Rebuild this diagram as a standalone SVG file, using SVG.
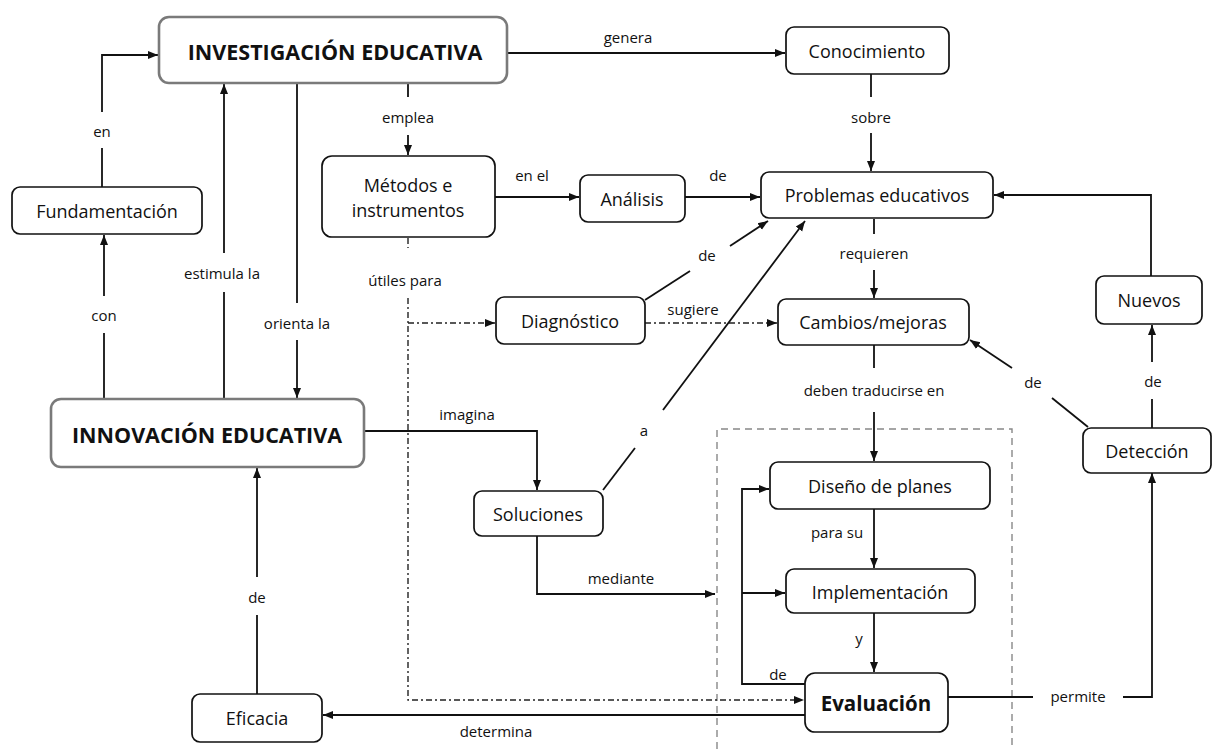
<svg xmlns="http://www.w3.org/2000/svg" width="1215" height="749" viewBox="0 0 1215 749">
<style>
.box{fill:#fff;stroke:#111;stroke-width:1.7}
.main{fill:#fff;stroke:#7a7a7a;stroke-width:2.6}
.t{font-family:"Open Sans","Liberation Sans",sans-serif;font-size:18px;fill:#111;text-anchor:middle;dominant-baseline:central}
.tb{font-family:"Open Sans","Liberation Sans",sans-serif;font-size:21.5px;font-weight:bold;fill:#111;text-anchor:middle;dominant-baseline:central}
.l{font-family:"Open Sans","Liberation Sans",sans-serif;font-size:15px;fill:#111;text-anchor:middle;dominant-baseline:central}
.c{fill:none;stroke:#111;stroke-width:1.8}
.dd{fill:none;stroke:#222;stroke-width:1.4;stroke-dasharray:6 3 2 3}
.ds{fill:none;stroke:#888;stroke-width:1.4;stroke-dasharray:7 5}
</style>
<defs>
<marker id="a" viewBox="0 0 10 10" refX="10" refY="5" markerUnits="userSpaceOnUse" markerWidth="10" markerHeight="10" orient="auto"><path d="M0,1 L10,5 L0,9 z" fill="#111"/></marker>
</defs>
<rect width="1215" height="749" fill="#fff"/>
<path class="ds" d="M717,749 V429 H1012 V749"/>
<g id="connectors">
<path class="c" d="M102,187 V148"/><path class="c" d="M102,112 V55 H158" marker-end="url(#a)"/>
<text class="l" x="102" y="131">en</text>
<path class="c" d="M104,399 V333"/><path class="c" d="M104,296 V235" marker-end="url(#a)"/>
<text class="l" x="104" y="315">con</text>
<path class="c" d="M224,399 V292"/><path class="c" d="M224,253 V84" marker-end="url(#a)"/>
<text class="l" x="222" y="273">estimula la</text>
<path class="c" d="M297,84 V303"/><path class="c" d="M297,340 V398" marker-end="url(#a)"/>
<text class="l" x="297" y="323">orienta la</text>
<path class="c" d="M507,53 H785" marker-end="url(#a)"/>
<text class="l" x="628" y="37">genera</text>
<path class="c" d="M408,84 V97"/><path class="c" d="M408,135 V155" marker-end="url(#a)"/>
<text class="l" x="408" y="117">emplea</text>
<path class="c" d="M871,74 V97"/><path class="c" d="M871,133 V171" marker-end="url(#a)"/>
<text class="l" x="871" y="117">sobre</text>
<path class="c" d="M495,197 H579" marker-end="url(#a)"/>
<text class="l" x="532" y="175">en el</text>
<path class="c" d="M685,197 H760" marker-end="url(#a)"/>
<text class="l" x="718" y="175">de</text>
<path class="dd" d="M408,238 V248"/><path class="dd" d="M408,298 V700 H804" marker-end="url(#a)"/>
<path class="dd" d="M408,323 H495" marker-end="url(#a)"/>
<text class="l" x="405" y="280">útiles para</text>
<path class="c" d="M645,300 L690,271"/><path class="c" d="M730,246 L768,221" marker-end="url(#a)"/>
<text class="l" x="707" y="255">de</text>
<path class="dd" d="M645,323 H777" marker-end="url(#a)"/>
<text class="l" x="693" y="309">sugiere</text>
<path class="c" d="M874,219 V234"/><path class="c" d="M874,270 V298" marker-end="url(#a)"/>
<text class="l" x="874" y="253">requieren</text>
<path class="c" d="M874,345 V368"/><path class="c" d="M874,412 V461" marker-end="url(#a)"/>
<text class="l" x="874" y="390">deben traducirse en</text>
<path class="c" d="M364,431 H537 V490" marker-end="url(#a)"/>
<text class="l" x="467" y="414">imagina</text>
<path class="c" d="M603,490 L635,448"/><path class="c" d="M663,410 L805,221" marker-end="url(#a)"/>
<text class="l" x="644" y="430">a</text>
<path class="c" d="M537,536 V594 H715" marker-end="url(#a)"/>
<text class="l" x="621" y="578">mediante</text>
<path class="c" d="M805,684 H742 V489 H769" marker-end="url(#a)"/>
<path class="c" d="M742,593 H785" marker-end="url(#a)"/>
<text class="l" x="778" y="674">de</text>
<path class="c" d="M874,509 V568" marker-end="url(#a)"/>
<text class="l" x="837" y="532">para su</text>
<path class="c" d="M874,613 V672" marker-end="url(#a)"/>
<text class="l" x="859" y="638">y</text>
<path class="c" d="M805,715 H323" marker-end="url(#a)"/>
<text class="l" x="496" y="731">determina</text>
<path class="c" d="M257,694 V615"/><path class="c" d="M257,577 V468" marker-end="url(#a)"/>
<text class="l" x="257" y="597">de</text>
<path class="c" d="M948,697 H1033"/><path class="c" d="M1123,697 H1152 V473" marker-end="url(#a)"/>
<text class="l" x="1078" y="696">permite</text>
<path class="c" d="M1152,428 V399"/><path class="c" d="M1152,362 V325" marker-end="url(#a)"/>
<text class="l" x="1153" y="381">de</text>
<path class="c" d="M1088,427 L1052,398"/><path class="c" d="M1012,368 L970,340" marker-end="url(#a)"/>
<text class="l" x="1033" y="382">de</text>
<path class="c" d="M1151,276 V195 H994" marker-end="url(#a)"/>
</g>
<g id="investigacion"><rect class="main" x="159" y="17" width="348" height="66" rx="10"/><text class="tb" x="335" y="51">INVESTIGACIÓN EDUCATIVA</text></g>
<g id="innovacion"><rect class="main" x="51" y="399" width="313" height="68" rx="10"/><text class="tb" x="207" y="434">INNOVACIÓN EDUCATIVA</text></g>
<g id="conocimiento"><rect class="box" x="786" y="27" width="163" height="47" rx="8"/><text class="t" x="867" y="51">Conocimiento</text></g>
<g id="fundamentacion"><rect class="box" x="12" y="187" width="190" height="47" rx="8"/><text class="t" x="107" y="211">Fundamentación</text></g>
<g id="metodos"><rect class="box" x="322" y="156" width="173" height="81" rx="10"/><text class="t" x="408" y="185">Métodos e</text><text class="t" x="408" y="210">instrumentos</text></g>
<g id="analisis"><rect class="box" x="580" y="175" width="105" height="47" rx="8"/><text class="t" x="632" y="199">Análisis</text></g>
<g id="problemas"><rect class="box" x="761" y="172" width="232" height="46" rx="8"/><text class="t" x="877" y="195">Problemas educativos</text></g>
<g id="diagnostico"><rect class="box" x="496" y="297" width="149" height="47" rx="8"/><text class="t" x="570" y="321">Diagnóstico</text></g>
<g id="cambios"><rect class="box" x="778" y="299" width="191" height="46" rx="8"/><text class="t" x="873" y="322">Cambios/mejoras</text></g>
<g id="nuevos"><rect class="box" x="1096" y="276" width="106" height="48" rx="8"/><text class="t" x="1149" y="300">Nuevos</text></g>
<g id="deteccion"><rect class="box" x="1083" y="428" width="128" height="45" rx="8"/><text class="t" x="1147" y="451">Detección</text></g>
<g id="soluciones"><rect class="box" x="474" y="491" width="129" height="45" rx="8"/><text class="t" x="538" y="514">Soluciones</text></g>
<g id="diseno"><rect class="box" x="770" y="462" width="220" height="47" rx="8"/><text class="t" x="880" y="486">Diseño de planes</text></g>
<g id="implementacion"><rect class="box" x="786" y="569" width="189" height="44" rx="8"/><text class="t" x="880" y="592">Implementación</text></g>
<g id="evaluacion"><rect class="box" x="805" y="673" width="143" height="59" rx="10"/><text class="tb" x="876" y="703" style="font-size:20.5px">Evaluación</text></g>
<g id="eficacia"><rect class="box" x="192" y="694" width="130" height="48" rx="8"/><text class="t" x="257" y="718">Eficacia</text></g>
</svg>
